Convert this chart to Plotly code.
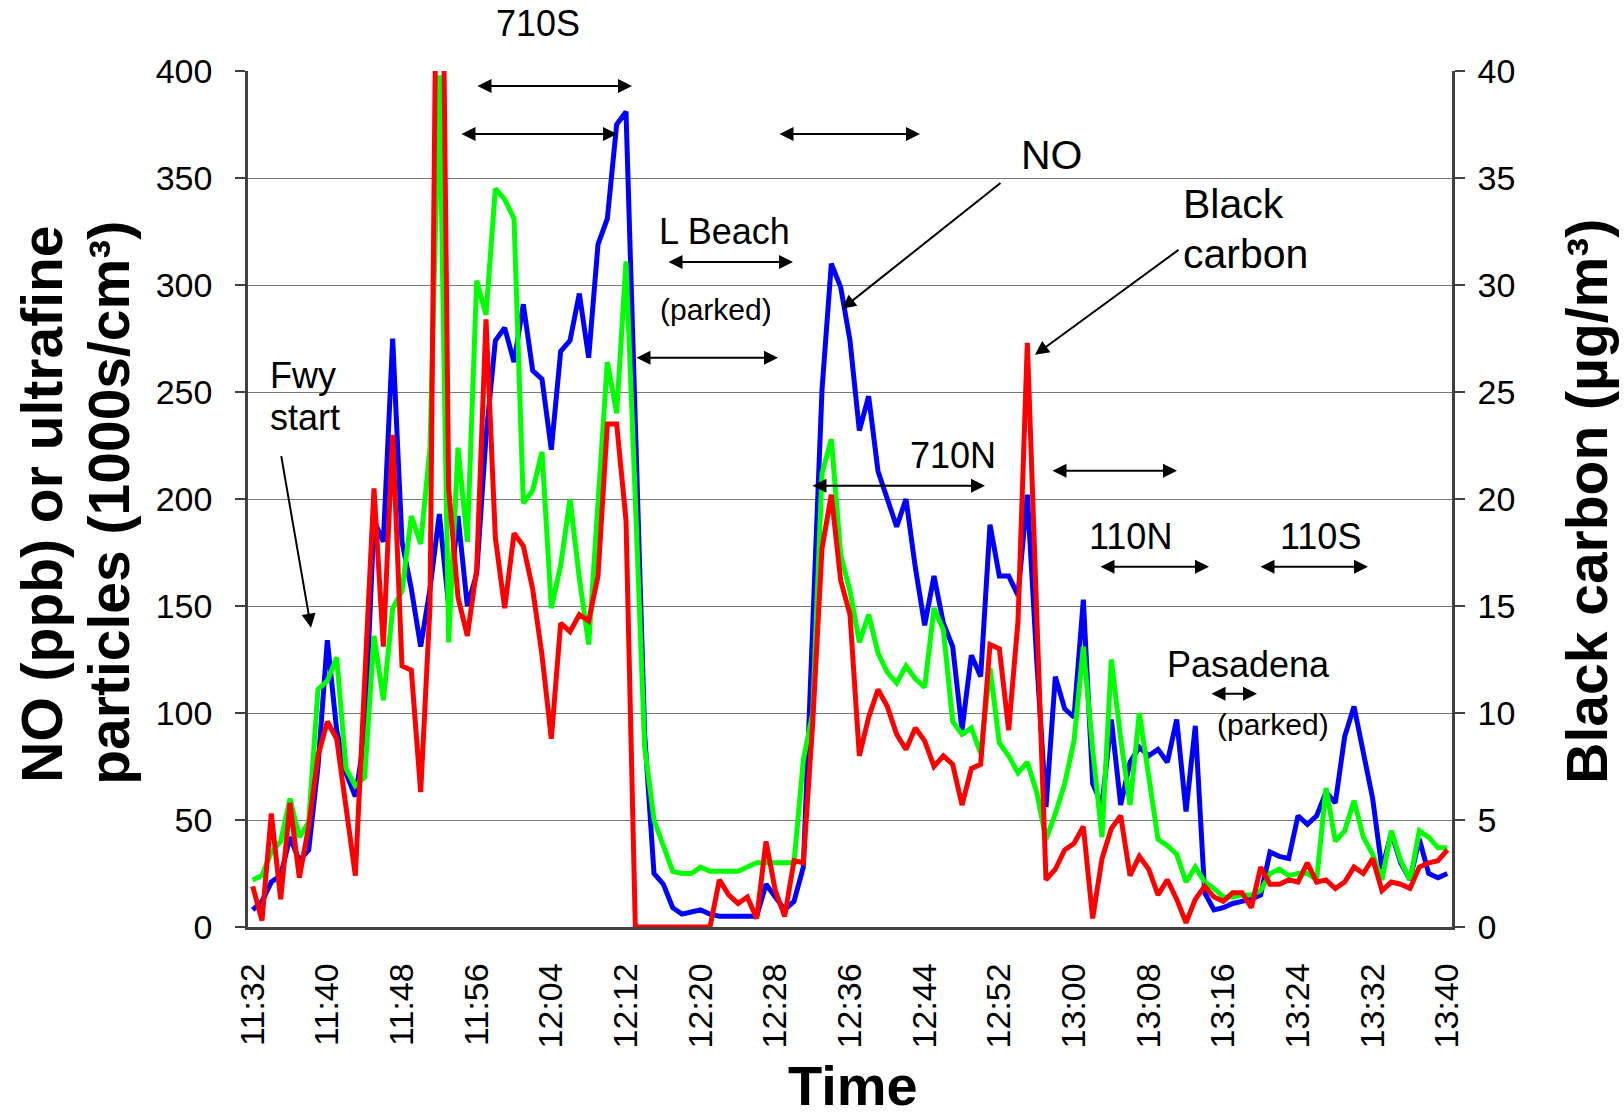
import plotly.graph_objects as go

# ---- data (one value per minute, 11:32 .. 13:40) ----
start_minute = 11 * 60 + 32
n_points = 129
times = [f"{(start_minute + k) // 60}:{(start_minute + k) % 60:02d}" for k in range(n_points)]

tick_labels = ["11:32", "11:40", "11:48", "11:56", "12:04", "12:12", "12:20", "12:28",
               "12:36", "12:44", "12:52", "13:00", "13:08", "13:16", "13:24", "13:32", "13:40"]

no_ppb = [8, 12, 21, 24, 42, 31, 36, 75, 134, 92, 72, 61, 89, 190, 180, 275, 180, 158, 131, 158,
          193, 150, 192, 150, 165, 229, 274, 280, 264, 291, 260, 256, 223, 269, 274, 296, 266, 319, 331, 375,
          381, 240, 90, 25, 20, 9, 6, 7, 8, 6, 5, 5, 5, 5, 5, 20, 14, 8, 12, 28,
          140, 251, 310, 299, 274, 232, 248, 213, 200, 187, 200, 168, 141, 164, 142, 131, 92, 127, 117, 188,
          164, 164, 155, 202, 125, 56, 117, 102, 98, 153, 67, 57, 97, 57, 77, 84, 80, 83, 77, 97,
          54, 94, 16, 8, 9, 11, 12, 13, 15, 35, 33, 32, 52, 48, 52, 63, 58, 89, 103, 80,
          60, 27, 44, 30, 22, 41, 25, 23, 25]

ufp_1000s = [22, 24, 35, 40, 60, 42, 49, 111, 115, 126, 74, 66, 70, 136, 106, 149, 157, 192, 179, 224,
             398, 133, 224, 180, 302, 286, 345, 340, 331, 198, 204, 222, 149, 169, 200, 163, 132, 200, 264, 240,
             311, 200, 84, 50, 38, 26, 25, 25, 28, 26, 26, 26, 26, 28, 30, 30, 30, 30, 30, 78,
             100, 212, 228, 174, 157, 133, 146, 128, 119, 114, 122, 116, 112, 149, 139, 96, 90, 93, 81, 121,
             86, 80, 72, 77, 63, 41, 53, 67, 87, 131, 83, 42, 125, 88, 57, 100, 72, 41, 38, 34,
             21, 28, 21, 18, 14, 14, 15, 15, 17, 25, 27, 24, 25, 25, 22, 65, 40, 45, 59, 42,
             34, 22, 45, 31, 22, 45, 42, 37, 37]

black_carbon = [1.9, 0.3, 5.3, 1.3, 5.8, 2.3, 4.7, 8.0, 9.6, 8.8, 5.6, 2.4, 11.5, 20.5, 13.1, 23.0, 12.2, 12.0, 6.3, 15.0,
                60.0, 20.5, 15.4, 13.6, 16.7, 28.4, 18.2, 14.9, 18.4, 17.8, 15.8, 12.7, 8.8, 14.2, 13.8, 14.6, 14.3, 16.4, 23.5, 23.5,
                19.0, 0, 0, 0, 0, 0, 0, 0, 0, 0, 2.2, 1.5, 1.1, 1.4, 0.4, 4.0, 1.7, 0.5, 3.1, 3.0,
                9.5, 17.7, 20.2, 16.2, 14.6, 8.0, 9.8, 11.1, 10.3, 9.0, 8.3, 9.3, 8.7, 7.5, 8.0, 7.6, 5.7, 7.4, 7.6, 13.2,
                13.0, 9.2, 14.3, 27.3, 14.7, 2.2, 2.7, 3.6, 3.9, 4.7, 0.4, 3.2, 4.6, 5.2, 2.4, 3.3, 2.7, 1.5, 2.2, 1.3,
                0.2, 1.3, 1.9, 1.4, 1.2, 1.6, 1.6, 0.9, 2.8, 2.0, 2.0, 2.2, 2.1, 3.0, 2.1, 2.2, 1.8, 2.1, 2.8, 2.5,
                3.2, 1.7, 2.1, 2.0, 1.8, 2.8, 3.0, 3.1, 3.6]

# ---- layout geometry (pixels) ----
FIG_W, FIG_H = 1624, 1116
L, R, T, B = 248, 1452, 71, 927.5
FONT = "Liberation Sans, Arial, sans-serif"
LW = 5


def px(X):
    return (X - L) / (R - L)


def py(Y):
    return (B - Y) / (B - T)


fig = go.Figure()
fig.add_trace(go.Scatter(x=times, y=no_ppb, mode="lines", name="NO",
                         line=dict(color="#0000FF", width=LW)))
fig.add_trace(go.Scatter(x=times, y=ufp_1000s, mode="lines", name="UFP",
                         line=dict(color="#00FF00", width=LW)))
fig.add_trace(go.Scatter(x=times, y=black_carbon, mode="lines", name="Black carbon",
                         line=dict(color="#FF0000", width=LW), yaxis="y2"))

annotations = []


def text(s, X, Y, size, anchor="center"):
    annotations.append(dict(text=s, x=px(X), y=py(Y), xref="paper", yref="paper",
                            xanchor=anchor, yanchor="middle", showarrow=False,
                            font=dict(family=FONT, size=size, color="black")))


def arrow(x1, y1, x2, y2, both=True):
    annotations.append(dict(text="", x=px(x2), y=py(y2), xref="paper", yref="paper",
                            ax=x1 - x2, ay=y1 - y2, axref="pixel", ayref="pixel",
                            showarrow=True, arrowhead=2, arrowsize=1.4, arrowwidth=2,
                            arrowcolor="black", standoff=0, startstandoff=0,
                            arrowside="end+start" if both else "end",
                            startarrowhead=2, startarrowsize=1.4))


text("710S", 538, 23, 36)
text("L Beach", 724, 232, 36)
text("(parked)", 716, 310, 30)
text("NO", 1052, 155, 41)
text("Black", 1181, 204, 41, "left")
text("carbon", 1181, 254, 41, "left")
text("710N", 953, 456, 36)
text("110N", 1130, 537, 36)
text("110S", 1320, 537, 36)
text("Pasadena", 1248, 665, 36)
text("(parked)", 1273, 725, 30)
text("Fwy", 268, 376, 36, "left")
text("start", 268, 418, 36, "left")

arrow(476, 86, 632, 86)
arrow(460, 134, 617, 134)
arrow(778, 134, 920, 134)
arrow(667, 262, 793, 262)
arrow(635, 358, 778, 358)
arrow(811, 486, 985, 486)
arrow(1051, 471, 1177, 471)
arrow(1099, 567, 1209, 567)
arrow(1259, 567, 1368, 567)
arrow(1210, 694, 1257, 694)
arrow(1002, 182, 842, 309, both=False)
arrow(1180, 249, 1035, 355, both=False)
arrow(281, 455, 311, 628, both=False)

# axis titles
annotations.append(dict(text="<b>NO (ppb) or ultrafine</b>", x=px(42), y=py(505), xref="paper", yref="paper",
                        textangle=-90, showarrow=False, xanchor="center", yanchor="middle",
                        font=dict(family=FONT, size=57, color="black")))
annotations.append(dict(text="<b>particles (1000s/cm³)</b>", x=px(109), y=py(503), xref="paper", yref="paper",
                        textangle=-90, showarrow=False, xanchor="center", yanchor="middle",
                        font=dict(family=FONT, size=57, color="black")))
annotations.append(dict(text="<b>Black carbon (µg/m³)</b>", x=px(1587), y=py(502), xref="paper", yref="paper",
                        textangle=-90, showarrow=False, xanchor="center", yanchor="middle",
                        font=dict(family=FONT, size=57, color="black")))
annotations.append(dict(text="<b>Time</b>", x=px(853), y=py(1086), xref="paper", yref="paper",
                        showarrow=False, xanchor="center", yanchor="middle",
                        font=dict(family=FONT, size=56, color="black")))

AX = "#404040"
fig.update_layout(
    width=FIG_W, height=FIG_H,
    margin=dict(l=L, r=FIG_W - R, t=T, b=FIG_H - B),
    plot_bgcolor="white", paper_bgcolor="white",
    showlegend=False,
    font=dict(family=FONT, color="black"),
    xaxis=dict(type="category", range=[-0.5, n_points - 0.5], tickvals=tick_labels, ticktext=tick_labels,
               tickangle=-90, tickfont=dict(size=34, family=FONT, color="black"),
               showgrid=False, showline=True, linecolor=AX, linewidth=2.5, ticks="",
               ticklabelstandoff=20, zeroline=False),
    yaxis=dict(range=[0, 400], dtick=50, tickfont=dict(size=34, family=FONT, color="black"),
               showgrid=True, gridcolor="#7a7a7a", gridwidth=1.3, zeroline=False,
               showline=True, linecolor=AX, linewidth=2.5, ticks="outside", ticklen=10,
               tickwidth=2, tickcolor=AX, ticklabelstandoff=16),
    yaxis2=dict(range=[0, 40], dtick=5, overlaying="y", side="right",
                tickfont=dict(size=34, family=FONT, color="black"),
                showgrid=False, zeroline=False, showline=True, linecolor=AX, linewidth=2.5,
                ticks="outside", ticklen=10, tickwidth=2, tickcolor=AX, ticklabelstandoff=6),
    annotations=annotations,
)

fig.write_html("out.html", config={"displayModeBar": False},
               post_script="document.body.style.margin='0';document.body.style.overflow='hidden';")
